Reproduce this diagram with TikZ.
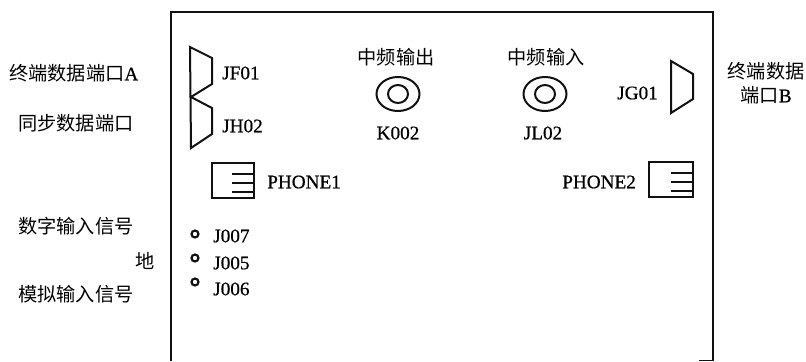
\documentclass[tikz,border=0pt]{standalone}
\usepackage{fontspec}
\setmainfont{Liberation Serif}[FakeBold=0.6]
\newfontfamily\cjkFont{Noto Sans CJK SC}
\newcommand{\cn}[1]{{\cjkFont #1}}

\tikzset{
    label/.style={inner sep=0pt, font=\fontsize{14.4pt}{16pt}\selectfont},
    leftLabel/.style={label, anchor=west},
    panelLine/.style={draw=borderColour, line width=1.6pt, line join=miter},
    partLine/.style={draw=borderColour, line width=1.5pt, line join=miter}
}

\begin{document}
\begin{tikzpicture}[x=0.75pt, y=-0.75pt]
    \definecolor{borderColour}{HTML}{111111}
    \useasboundingbox (0,0) rectangle (806,361);

    % Draw panel outline
    \draw[panelLine] (171,361) -- (171,12) -- (713,12) -- (713,361);
    \draw[draw=borderColour, thin] (699,360) -- (713,360);

    % Draw data ports
    \draw[partLine] (212,58) -- (190,47) -- (191,148) -- (212,134) -- (212,108) -- (191,97) -- (212,84) -- cycle;
    \draw[partLine] (671,61) -- (693,74) -- (693,99) -- (671,113) -- cycle;

    % Draw IF connectors
    \foreach \x in {398,545} {
        \draw[partLine] (\x,94) ellipse (21.5 and 17);
        \draw[partLine] (\x,94) ellipse (10 and 9);
    }

    % Draw phone sockets
    \draw[partLine] (212,163) rectangle (254,198);
    \draw[partLine] (649,162) rectangle (693,197);
    \foreach \y in {174,183,192} {
        \draw[draw=borderColour, thick] (232,\y) -- (254,\y);
        \draw[draw=borderColour, thick] (671,\y-1) -- (693,\y-1);
    }

    % Draw test points
    \foreach \y in {234,258,282}
        \draw[draw=borderColour, line width=1.6pt] (195,\y) circle (3.5);

    % Label parts on the panel
    \node[leftLabel] (jf01) at (222,73) {JF01};
    \node[leftLabel] (jh02) at (222,126) {JH02};
    \node[leftLabel] (jg01) at (617,93) {JG01};
    \node[leftLabel] (phone1) at (267,182) {PHONE1};
    \node[leftLabel] (phone2) at (562,182) {PHONE2};
    \node[label] (k002) at (398,133) {K002};
    \node[label] (jl02) at (543,133) {JL02};
    \node[label] (ifOut) at (396,57) {\cn{中频输出}};
    \node[label] (ifIn) at (546,57) {\cn{中频输入}};
    \node[leftLabel] (j007) at (213,236) {J007};
    \node[leftLabel] (j005) at (213,263) {J005};
    \node[leftLabel] (j006) at (213,289) {J006};

    % Label signals outside the panel
    \node[leftLabel] (portA) at (9,73) {\cn{终端数据端口}A};
    \node[leftLabel] (syncPort) at (18,123) {\cn{同步数据端口}};
    \node[leftLabel] (digitalIn) at (18,226) {\cn{数字输入信号}};
    \node[leftLabel] (ground) at (135,261) {\cn{地}};
    \node[leftLabel] (analogIn) at (18,294) {\cn{模拟输入信号}};
    \node[label] (portB) at (766,71) {\cn{终端数据}};
    \node[label] (portBb) at (766,95) {\cn{端口}B};
\end{tikzpicture}
\end{document}
